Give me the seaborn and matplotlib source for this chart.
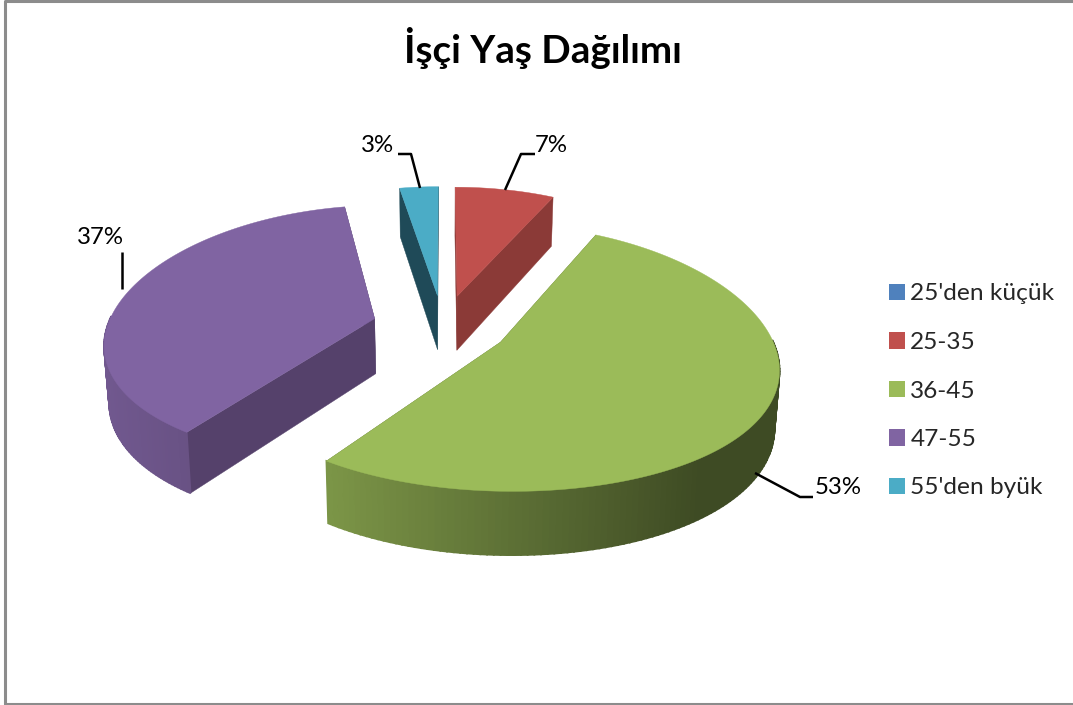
import numpy as np
import matplotlib
matplotlib.use("Agg")
import matplotlib.pyplot as plt
from matplotlib.patches import Patch
from matplotlib.colors import to_rgb
import seaborn as sns

title = "İşçi Yaş Dağılımı"
categories = ["25'den küçük", "25-35", "36-45", "47-55", "55'den byük"]
values = [0, 7.2, 52.6, 37.4, 2.8]

hexes = ["#4f81bd", "#c0504d", "#9bbb59", "#8064a2", "#4bacc6"]
dark_faces = ["#2f4d71", "#8b3a37", "#5d7035", "#55416b", "#1f4a58"]
sns.set_theme(style="white")
plt.rcParams["font.family"] = ["Lato", "DejaVu Sans"]
palette = sns.color_palette(hexes)

W, H = 1073, 705
fig = plt.figure(figsize=(W / 100, H / 100), dpi=100)
ax = fig.add_axes([0, 0, 1, 1])
ax.set_xlim(0, W)
ax.set_ylim(H, 0)
ax.axis("off")

# projection parameters of the tilted pie
CX, CY, A, B, KX, KY = 443, 326, 267, 128, 0.17, 0.115
EXPLODE = [0.245, 0.245, 0.245, 0.265, 0.245]
DEPTH, BOTTOM_X = 55.5, 0.985


def project(px, py, low=False):
    sx = 1 / (1 + KX * py)
    sy = 1 / (1 + KY * py)
    x = CX + A * px * sx
    y = CY - B * py * sy
    if low:
        x = CX + (x - CX) * BOTTOM_X
        y = y + DEPTH * sy
    return x, y


def rim(theta, ox, oy, low=False):
    return project(ox + np.sin(theta), oy + np.cos(theta), low)


def shade(base, t):
    c = np.array(to_rgb(base))
    return tuple(np.clip(c * t, 0, 1))


total = sum(values)
fractions = np.array(values) / total
edges = np.concatenate([[0], np.cumsum(fractions)]) * 2 * np.pi

# back-to-front order
order = [4, 1, 3, 2]
for i in order:
    if values[i] == 0:
        continue
    t0, t1 = edges[i], edges[i + 1]
    mid = (t0 + t1) / 2
    ox, oy = EXPLODE[i] * np.sin(mid), EXPLODE[i] * np.cos(mid)
    ax_top = project(ox, oy)
    ax_low = project(ox, oy, True)

    # radial faces
    for t in (t0, t1):
        r_top, r_low = rim(t, ox, oy), rim(t, ox, oy, True)
        pts = np.array([ax_top, r_top, r_low, ax_low])
        ax.fill(pts[:, 0], pts[:, 1], color=dark_faces[i], lw=0.3, zorder=2)

    # outer wall with horizontal gradient
    thetas = np.linspace(t0, t1, 160)
    for a, b in zip(thetas[:-1], thetas[1:]):
        m = (a + b) / 2
        if np.cos(m) > 0.02:
            continue
        xm = rim(m, ox, oy)[0]
        if i == 2:
            u = np.clip((xm - 325) / (700 - 325), 0, 1)
            col = shade(hexes[i], 0.80 - 0.40 * u)
        else:
            u = np.clip((xm - 105) / (195 - 105), 0, 1)
            col = shade(hexes[i], 0.88 - 0.07 * u)
        p = np.array([rim(a, ox, oy), rim(b, ox, oy), rim(b, ox, oy, True), rim(a, ox, oy, True)])
        ax.fill(p[:, 0], p[:, 1], facecolor=col, edgecolor=col, lw=1.3, zorder=3)

    # top face
    ring = np.array([rim(t, ox, oy) for t in np.linspace(t0, t1, 300)])
    top = np.vstack([ax_top, ring])
    ax.fill(top[:, 0], top[:, 1], color=palette[i], lw=0.3, zorder=4)

# data labels and leader lines
label_pos = {1: (551, 146), 2: (838, 488), 3: (100, 238), 4: (378, 146)}
leaders = {
    1: [(535, 154), (521, 154), (505, 190)],
    2: [(813, 497), (800, 497), (755, 473)],
    3: [(122, 252), (122, 289)],
    4: [(398, 154), (411, 154), (420, 188)],
}
for i, (lx, ly) in label_pos.items():
    ax.text(lx, ly, f"{round(values[i])}%", ha="center", va="center", fontsize=17.3, color="black", zorder=6)
    pts = np.array(leaders[i])
    ax.plot(pts[:, 0], pts[:, 1], color="black", lw=1.8, zorder=5, solid_capstyle="butt")

ax.text(543, 48, title, ha="center", va="center", fontsize=27.8, fontweight="bold", color="black")

handles = [Patch(facecolor=c, edgecolor="none", label=n) for c, n in zip(palette, categories)]
ax.legend(
    handles=handles,
    loc="center left",
    bbox_to_anchor=(889 / W, 1 - 391 / H),
    frameon=False,
    fontsize=17.6,
    labelspacing=1.125,
    handlelength=0.65,
    handleheight=0.65,
    handletextpad=0.22,
    borderpad=0,
    borderaxespad=0,
)

# chart area frame
ax.plot([W + 5, 5, 5, W + 5], [0.5, 0.5, 703.5, 703.5], color="#8c8c8c", lw=2.2, zorder=1, clip_on=True)

fig.savefig("out.png", dpi=100)
